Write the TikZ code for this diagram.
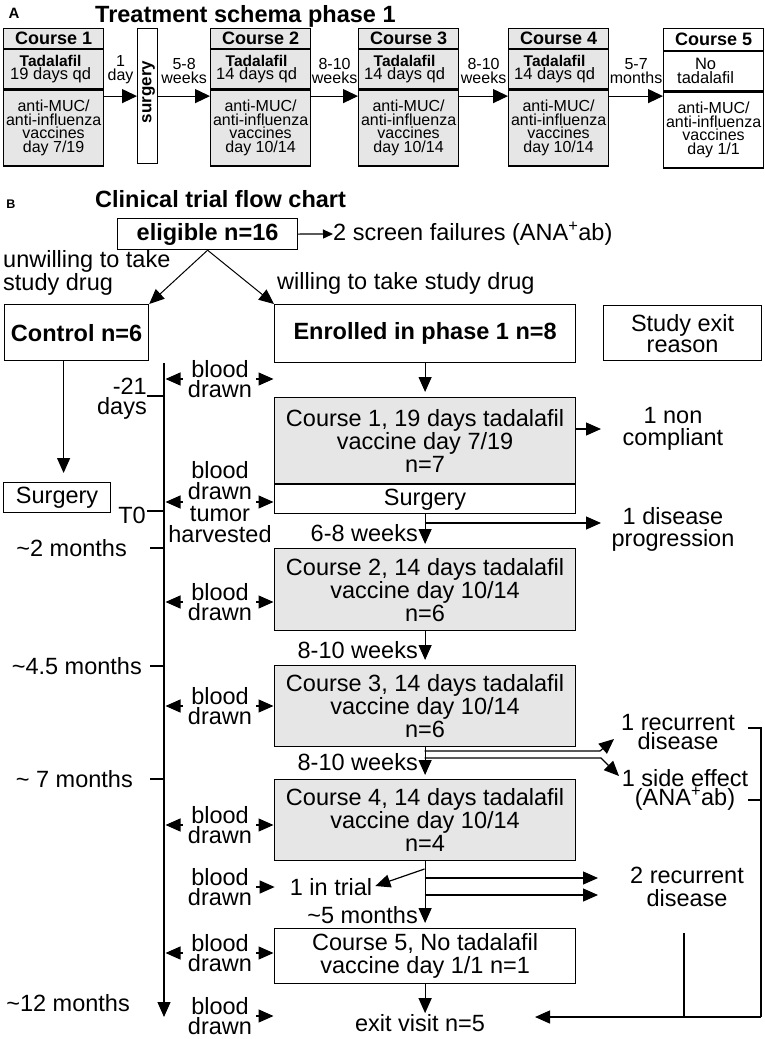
\documentclass[tikz,border=0pt]{standalone}
\usepackage{fontspec}
\setmainfont{Liberation Sans}
\usetikzlibrary{arrows.meta,calc}
\definecolor{boxgray}{HTML}{E6E6E6}
\begin{document}
\begin{tikzpicture}[x=1pt,y=-1pt,
  bx/.style={draw, line width=1.2pt, inner sep=0pt},
  gbx/.style={bx, fill=boxgray},
  lab/.style={inner sep=0pt, align=center},
  fA/.style={font=\fontsize{16}{13.5}\selectfont},
  fAm/.style={font=\fontsize{16.5}{13.5}\selectfont},
  fAhead/.style={font=\fontsize{18}{18}\selectfont\bfseries},
  fB/.style={font=\fontsize{23.5}{21}\selectfont},
  fBb/.style={font=\fontsize{23.5}{21}\selectfont\bfseries},
  fBc/.style={font=\fontsize{23.5}{23}\selectfont},
  ttl/.style={font=\fontsize{23.5}{23.5}\selectfont\bfseries, inner sep=0pt},
  arrA/.style={-{Triangle[length=15pt,width=14pt]}, line width=1.2pt},
  arrB/.style={-{Triangle[length=15pt,width=13pt]}, line width=1.2pt},
  arrS/.style={-{Triangle[length=10pt,width=9pt]}, line width=1.2pt},
  ln/.style={line width=1.2pt},
]
\useasboundingbox (0,0) rectangle (765,1039);

% ---------------- Part A ----------------
\node[lab, font=\fontsize{15}{15}\selectfont\bfseries] (labA) at (14,13) {A};
\node[ttl, anchor=base west] (titA) at (95,22) {Treatment schema phase 1};

% Course 1
\node[gbx, fAhead, minimum width=100pt, minimum height=20pt, anchor=north west] (c1h) at (3,28) {Course 1};
\node[gbx, minimum width=100pt, minimum height=39pt, anchor=north] (c1m) at (c1h.south) {};
\node[gbx, fA, align=center, minimum width=100pt, minimum height=76pt, anchor=north] (c1b) at (c1m.south) {anti-MUC/\\anti-influenza\\vaccines\\day 7/19};
\node[lab, fAm] (c1t) at ([xshift=-3pt]c1m.center) {{\bfseries\fontsize{15.5}{13}\selectfont Tadalafil}\\19 days qd};

% surgery
\node[bx, minimum width=20pt, minimum height=135pt, anchor=north west] (surg) at (137,28) {};
\node[lab, rotate=90, font=\fontsize{17}{17}\selectfont\bfseries] (surgt) at ([xshift=1pt,yshift=4pt]surg.center) {surgery};

% Course 2
\node[gbx, fAhead, minimum width=100pt, minimum height=20pt, anchor=north west] (c2h) at (210,28) {Course 2};
\node[gbx, minimum width=100pt, minimum height=39pt, anchor=north] (c2m) at (c2h.south) {};
\node[gbx, fA, align=center, minimum width=100pt, minimum height=76pt, anchor=north] (c2b) at (c2m.south) {anti-MUC/\\anti-influenza\\vaccines\\day 10/14};
\node[lab, fAm] (c2t) at ([xshift=-4pt]c2m.center) {{\bfseries\fontsize{15.5}{13}\selectfont Tadalafil}\\14 days qd};

% Course 3
\node[gbx, fAhead, minimum width=100pt, minimum height=20pt, anchor=north west] (c3h) at (358,28) {Course 3};
\node[gbx, minimum width=100pt, minimum height=39pt, anchor=north] (c3m) at (c3h.south) {};
\node[gbx, fA, align=center, minimum width=100pt, minimum height=76pt, anchor=north] (c3b) at (c3m.south) {anti-MUC/\\anti-influenza\\vaccines\\day 10/14};
\node[lab, fAm] (c3t) at ([xshift=-4pt]c3m.center) {{\bfseries\fontsize{15.5}{13}\selectfont Tadalafil}\\14 days qd};

% Course 4
\node[gbx, fAhead, minimum width=100pt, minimum height=20pt, anchor=north west] (c4h) at (508,28) {Course 4};
\node[gbx, minimum width=100pt, minimum height=39pt, anchor=north] (c4m) at (c4h.south) {};
\node[gbx, fA, align=center, minimum width=100pt, minimum height=76pt, anchor=north] (c4b) at (c4m.south) {anti-MUC/\\anti-influenza\\vaccines\\day 10/14};
\node[lab, fAm] (c4t) at ([xshift=-4pt]c4m.center) {{\bfseries\fontsize{15.5}{13}\selectfont Tadalafil}\\14 days qd};

% Course 5
\node[bx, fAhead, minimum width=100pt, minimum height=22pt, anchor=north west] (c5h) at (663,28) {Course 5};
\node[bx, minimum width=100pt, minimum height=39pt, anchor=north] (c5m) at (c5h.south) {};
\node[bx, fA, align=center, minimum width=100pt, minimum height=76pt, anchor=north] (c5b) at (c5m.south) {anti-MUC/\\anti-influenza\\vaccines\\day 1/1};
\node[lab, font=\fontsize{16.5}{14}\selectfont] (c5t) at ([xshift=-8pt]c5m.center) {No\\tadalafil};

% arrows A
\draw[arrA] (c1b.east |- surg.center) -- node[lab, font=\fontsize{16}{14}\selectfont, midway, above=12pt] {1\\day} (surg.west);
\draw[arrA] (surg.east) -- node[lab, font=\fontsize{16}{14}\selectfont, midway, above=12pt] {5-8\\weeks} (c2b.west |- surg.center);
\draw[arrA] (c2b.east |- surg.center) -- node[lab, font=\fontsize{16}{14}\selectfont, midway, above=12pt] {8-10\\weeks} (c3b.west |- surg.center);
\draw[arrA] (c3b.east |- surg.center) -- node[lab, font=\fontsize{16}{14}\selectfont, midway, above=12pt] {8-10\\weeks} (c4b.west |- surg.center);
\draw[arrA] (c4b.east |- surg.center) -- node[lab, font=\fontsize{16}{14}\selectfont, midway, above=12pt] {5-7\\months} (c5b.west |- surg.center);

% ---------------- Part B ----------------
\node[lab, font=\fontsize{12.5}{12.5}\selectfont\bfseries] (labB) at (11,204) {B};
\node[ttl, anchor=base west] (titB) at (95,207) {Clinical trial flow chart};

\node[bx, fBb, minimum width=180pt, minimum height=31pt, anchor=north west] (elig) at (117,218) {eligible n=16};
\node[lab, fB, anchor=west] (scr) at (333,234) {2 screen failures (ANA\textsuperscript{+}ab)};
\draw[arrS] (elig.east) -- (scr.west);

\node[lab, fB, align=left, anchor=west] (unw) at (3,273) {unwilling to take\\study drug};
\node[lab, fB, anchor=west] (will) at (277,283) {willing to take study drug};

\node[bx, fBb, minimum width=144pt, minimum height=56pt, anchor=north west] (ctrl) at (4,304) {Control n=6};
\node[bx, fBb, minimum width=301pt, minimum height=58pt, anchor=north west] (enr) at (274,304) {Enrolled in phase 1 n=8};
\node[bx, fB, align=center, minimum width=158pt, minimum height=55pt, anchor=north west] (exitr) at (603,305) {Study exit\\reason};

\draw[arrB, line width=1pt] (elig.south) -- (ctrl.north east);
\draw[arrB, line width=1pt] (elig.south) -- (enr.north west);

% control arm
\node[bx, fB, minimum width=107pt, minimum height=30pt, anchor=north west] (csurg) at (3,482) {Surgery};
\draw[arrB] ([xshift=-13pt]ctrl.south) -- ([xshift=6.5pt,yshift=9pt]csurg.north);

% timeline
\coordinate (tltop) at (164,363);
\coordinate (tlbot) at (164,1017);
\draw[arrB] (tltop) -- (tlbot);
\draw[ln] (147,396) -- (tltop |- 0,396);
\draw[ln] (147,511) -- (tltop |- 0,511);
\draw[ln] (150,548) -- (tltop |- 0,548);
\draw[ln] (150,666) -- (tltop |- 0,666);
\draw[ln] (150,779) -- (tltop |- 0,779);

\node[lab, fB, font=\fontsize{23.5}{20}\selectfont, align=right, anchor=east] (tm21) at (147,398.5) {-21\\days};
\node[lab, fB, anchor=east] (tT0) at (146,515.5) {T0};
\node[lab, fB, anchor=east] (tm2) at (127,548) {\textasciitilde2 months};
\node[lab, fB, anchor=east] (tm45) at (142,666) {\textasciitilde4.5 months};
\node[lab, fB, anchor=east] (tm7) at (133,779) {\textasciitilde\ 7 months};
\node[lab, fB, anchor=east] (tm12) at (130,1003) {\textasciitilde12 months};

% enrolled arm boxes
\node[gbx, fBc, align=center, minimum width=301pt, minimum height=86pt, anchor=north west] (cb1) at (274,397) {Course 1, 19 days tadalafil\\vaccine day 7/19\\n=7};
\node[bx, fB, minimum width=301pt, minimum height=29pt, anchor=north] (rsurg) at (cb1.south) {Surgery};
\node[gbx, fBc, align=center, minimum width=301pt, minimum height=82pt, anchor=north west] (cb2) at (274,548) {Course 2, 14 days tadalafil\\vaccine day 10/14\\n=6};
\node[gbx, fBc, align=center, minimum width=301pt, minimum height=81pt, anchor=north west] (cb3) at (274,665) {Course 3, 14 days tadalafil\\vaccine day 10/14\\n=6};
\node[gbx, fBc, align=center, minimum width=301pt, minimum height=81pt, anchor=north west] (cb4) at (274,779) {Course 4, 14 days tadalafil\\vaccine day 10/14\\n=4};
\node[bx, fBc, align=center, minimum width=301pt, minimum height=55pt, anchor=north west] (cb5) at (274,928) {Course 5, No tadalafil\\vaccine day 1/1 n=1};
\node[lab, fB] (exitv) at (420,1023) {exit visit n=5};

% blood drawn labels
\node[lab, fB, font=\fontsize{23.5}{20}\selectfont] (bd1) at (220,379) {blood\\drawn};
\node[lab, fB, font=\fontsize{23.5}{21.5}\selectfont] (bd2) at (220,502) {blood\\drawn\\tumor\\harvested};
\node[lab, fB, font=\fontsize{23.5}{20}\selectfont] (bd3) at (220,602) {blood\\drawn};
\node[lab, fB, font=\fontsize{23.5}{20}\selectfont] (bd4) at (220,706) {blood\\drawn};
\node[lab, fB, font=\fontsize{23.5}{20}\selectfont] (bd5) at (220,825) {blood\\drawn};
\node[lab, fB, font=\fontsize{23.5}{20}\selectfont] (bd6) at (220,887) {blood\\drawn};
\node[lab, fB, font=\fontsize{23.5}{20}\selectfont] (bd7) at (220,953) {blood\\drawn};
\node[lab, fB, font=\fontsize{23.5}{20}\selectfont] (bd8) at (220,1016) {blood\\drawn};
\node[lab, fB] (intrial) at (331,887) {1 in trial};

\foreach \b in {bd1,bd2,bd3,bd4,bd5,bd7}{
  \draw[arrB, shorten >=1.5pt] ([xshift=-37pt]\b.center) -- (\b.center -| tltop);
}
\foreach \b in {bd1,bd2,bd3,bd4,bd5,bd7,bd8}{
  \draw[arrB, shorten >=0.5pt] ([xshift=36pt]\b.center) -- (\b.center -| enr.west);
}
\draw[arrB, shorten >=15pt] ([xshift=36pt]bd6.center) -- (intrial.west);

% exit reasons
\node[lab, fB, font=\fontsize{23.5}{22}\selectfont] (noncomp) at (673,429) {1 non\\compliant};
\node[lab, fB, font=\fontsize{23.5}{22}\selectfont] (dispro) at (673,529) {1 disease\\progression};
\node[lab, fB, font=\fontsize{23.5}{18.5}\selectfont] (rec1) at (678,732) {1 recurrent\\disease};
\node[lab, fB, font=\fontsize{23.5}{18.5}\selectfont] (side1) at (685,790) {1 side effect\\(ANA\textsuperscript{+}ab)};
\node[lab, fB, font=\fontsize{23.5}{23}\selectfont] (rec2) at (687,887) {2 recurrent\\disease};

% vertical flow
\draw[arrB, shorten >=5pt] (enr.south) -- (cb1.north);
\draw[arrB, shorten >=4pt] (rsurg.south) -- (cb2.north);
\draw[arrB, shorten >=5pt] (cb2.south) -- (cb3.north);
\draw[arrB, shorten >=4pt] (cb3.south) -- (cb4.north);
\draw[arrB, shorten >=5pt] (cb4.south) -- (cb5.north);
\draw[arrB, shorten >=1pt] (cb5.south) -- (cb5.south |- exitv.north);

\node[lab, fB, anchor=east] (w1) at (418,533) {6-8 weeks};
\node[lab, fB, anchor=east] (w2) at (418,650) {8-10 weeks};
\node[lab, fB, anchor=east] (w3) at (418,762) {8-10 weeks};
\node[lab, fB, anchor=east] (w4) at (418,915) {\textasciitilde5 months};

% side branches
\coordinate (ncTip) at (601,429);
\draw[arrB] (cb1.east |- ncTip) -- (ncTip);
\coordinate (br1) at (424.5,523);
\coordinate (br1tip) at (601,523);
\draw[arrB] (br1) -- (br1tip);

\coordinate (br3a) at (424.5,751);
\coordinate (br3ak) at (600,751);
\coordinate (br3at) at (614,739);
\coordinate (br3b) at (424.5,758);
\coordinate (br3bk) at (601,758);
\coordinate (br3bt) at (619,776);
\draw[arrB] (br3a) -- (br3ak) -- (br3at);
\draw[arrB] (br3b) -- (br3bk) -- (br3bt);

\coordinate (br4a) at (424.5,869);
\draw[arrB] (br4a) -- ([xshift=3pt,yshift=1pt]intrial.east);
\coordinate (br4b) at (424.5,878);
\coordinate (br4bt) at (598,878);
\coordinate (br4c) at (424.5,895);
\coordinate (br4ct) at (598,895);
\draw[arrB] (br4b) -- (br4bt);
\draw[arrB] (br4c) -- (br4ct);

% bracket to exit visit
\coordinate (bkTop) at (761,728);
\coordinate (bkMid) at (761,800);
\coordinate (bkBot) at (761,1017);
\coordinate (exitTip) at (535,1017);
\draw[ln] ([xshift=13pt]rec1.east |- bkTop) -- (bkTop) -- (bkBot);
\draw[ln] (748,800) -- (bkMid);
\draw[arrB] (bkBot) -- (exitTip);
\coordinate (r2top) at (684,933);
\draw[ln] (r2top) -- (r2top |- bkBot);
\end{tikzpicture}
\end{document}
